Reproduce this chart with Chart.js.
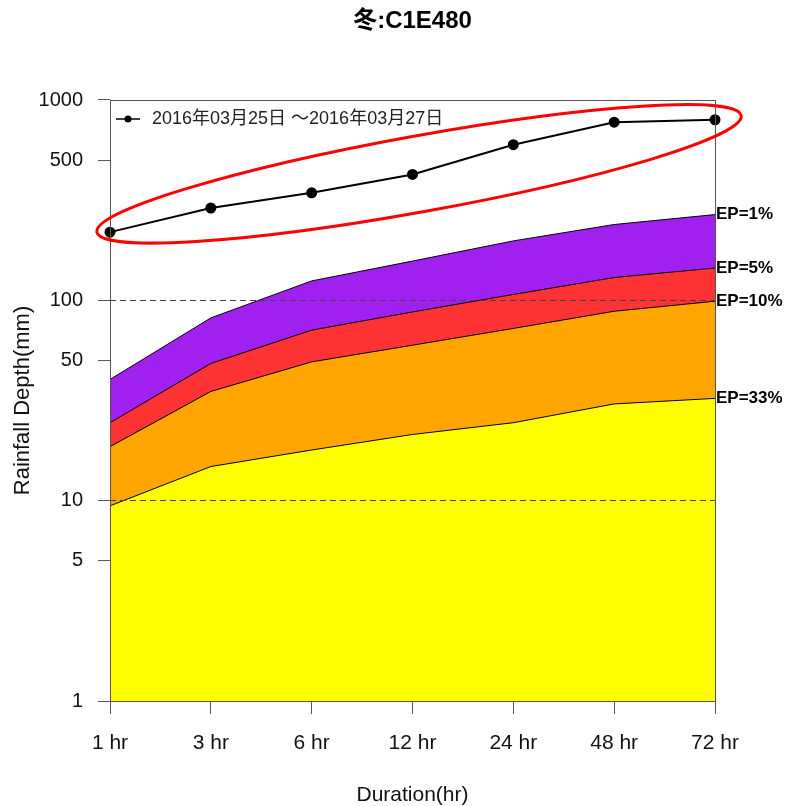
<!DOCTYPE html>
<html>
<head>
<meta charset="utf-8">
<script src="https://cdn.jsdelivr.net/npm/chart.js@4.4.1/dist/chart.umd.min.js"></script>
<style>
  body { margin: 0; background: #fff; }
  #box { width: 786px; height: 806px; }
</style>
</head>
<body>
<div id="box"><canvas id="myChart"></canvas></div>
<script>
const durations = ['1 hr', '3 hr', '6 hr', '12 hr', '24 hr', '48 hr', '72 hr'];
const yTicks = [1, 5, 10, 50, 100, 500, 1000];

// storm event depths (mm)
const observed = [219, 289, 344, 425, 598, 775, 797];

// exceedance probability curves (mm)
const ep1 = [40.3, 81.7, 125, 157, 198, 239, 268];
const ep5 = [24.5, 48.4, 71, 87.5, 107, 130, 145];
const ep10 = [18.6, 35.1, 49.3, 59.7, 72.4, 88.2, 99];
const ep33 = [9.42, 14.8, 17.9, 21.4, 24.5, 30.4, 32.4];

// red ring round the storm curve, in data units (index, mm) + half width px
const ring = { from: [-0.13, 219], to: [6.26, 836], half: 38 };

const FONT = "'Liberation Sans', Arial, 'Noto Sans CJK JP', sans-serif";
const AXIS = '#555';

const band = (label, values, color) => ({
  label: label,
  data: values,
  borderColor: '#000',
  borderWidth: 1,
  backgroundColor: color,
  fill: 'start',
  pointRadius: 0,
  tension: 0
});

const data = {
  labels: durations,
  datasets: [
    {
      label: '2016年03月25日 ～2016年03月27日',
      data: observed,
      borderColor: '#000',
      borderWidth: 2,
      backgroundColor: '#000',
      pointRadius: 4.5,
      pointBackgroundColor: '#000',
      fill: false
    },
    // first band is filled last so yellow sits on top
    band('EP=33%', ep33, '#FFFF00'),
    band('EP=10%', ep10, '#FFA500'),
    band('EP=5%', ep5, '#FF3333'),
    band('EP=1%', ep1, '#A020F0')
  ]
};

// box, end labels, legend and the ring
const extras = {
  id: 'extras',
  afterDraw(chart) {
    const ctx = chart.ctx;
    const area = chart.chartArea;
    const xs = chart.scales.x;
    const ys = chart.scales.y;
    ctx.save();

    ctx.strokeStyle = AXIS;
    ctx.lineWidth = 1;
    ctx.strokeRect(area.left + 0.5, area.top + 0.5, area.right - area.left, area.bottom - area.top);

    // EP labels at the right end of each band
    ctx.font = 'bold 17px ' + FONT;
    ctx.fillStyle = '#000';
    ctx.textAlign = 'left';
    ctx.textBaseline = 'middle';
    chart.data.datasets.slice(1).forEach(ds => {
      const last = ds.data[ds.data.length - 1];
      ctx.fillText(ds.label, area.right + 1, ys.getPixelForValue(last));
    });

    // legend
    const ly = area.top + 19;
    const lx = area.left + 6;
    ctx.strokeStyle = '#000';
    ctx.lineWidth = 1.5;
    ctx.beginPath();
    ctx.moveTo(lx, ly);
    ctx.lineTo(lx + 24, ly);
    ctx.stroke();
    ctx.beginPath();
    ctx.arc(lx + 12, ly, 3.5, 0, Math.PI * 2);
    ctx.fill();
    ctx.font = '18px ' + FONT;
    ctx.fillStyle = '#222';
    ctx.fillText(chart.data.datasets[0].label, lx + 36, ly);

    // ring
    const x1 = xs.getPixelForValue(ring.from[0]);
    const y1 = ys.getPixelForValue(ring.from[1]);
    const x2 = xs.getPixelForValue(ring.to[0]);
    const y2 = ys.getPixelForValue(ring.to[1]);
    ctx.strokeStyle = '#FF0000';
    ctx.lineWidth = 3;
    ctx.beginPath();
    ctx.ellipse((x1 + x2) / 2, (y1 + y2) / 2, Math.hypot(x2 - x1, y2 - y1) / 2, ring.half,
      Math.atan2(y2 - y1, x2 - x1), 0, Math.PI * 2);
    ctx.stroke();

    ctx.restore();
  }
};

const config = {
  type: 'line',
  data: data,
  plugins: [extras],
  options: {
    responsive: true,
    maintainAspectRatio: false,
    animation: false,
    devicePixelRatio: 1,
    layout: { padding: { left: 0, right: 71, top: 0, bottom: 0 } },
    plugins: {
      legend: { display: false },
      tooltip: { enabled: false },
      title: {
        display: true,
        text: '冬:C1E480',
        fullSize: false,
        color: '#000',
        font: { family: FONT, size: 24, weight: 'bold', lineHeight: 1.2 },
        padding: { top: 7.1, bottom: 64.1 }
      }
    },
    scales: {
      x: {
        type: 'category',
        offset: false,
        afterFit(scale) { scale.height = 105; },
        border: { display: false },
        grid: {
          drawOnChartArea: false,
          drawTicks: true,
          tickLength: 13,
          tickColor: AXIS
        },
        ticks: {
          color: '#111',
          padding: 17,
          maxRotation: 0,
          font: { family: FONT, size: 21 }
        },
        title: {
          display: true,
          text: 'Duration(hr)',
          color: '#111',
          font: { family: FONT, size: 21, lineHeight: 1 },
          padding: { top: 0, bottom: 0.5 }
        }
      },
      y: {
        type: 'logarithmic',
        min: 1,
        max: 1000,
        afterFit(scale) { scale.width = 110; },
        afterBuildTicks(scale) { scale.ticks = yTicks.map(v => ({ value: v })); },
        border: { display: false, dash: [6, 4] },
        grid: {
          z: 1,
          color: c => (c.tick && (c.tick.value === 10 || c.tick.value === 100)) ? '#444' : 'rgba(0,0,0,0)',
          lineWidth: 1,
          drawTicks: true,
          tickLength: 12,
          tickColor: AXIS
        },
        ticks: {
          color: '#111',
          padding: 15,
          font: { family: FONT, size: 20 },
          callback: v => String(v)
        },
        title: {
          display: true,
          text: 'Rainfall Depth(mm)',
          color: '#111',
          font: { family: FONT, size: 22 },
          padding: { top: 10, bottom: 0 }
        }
      }
    }
  }
};

const myChart = new Chart(document.getElementById('myChart'), config);
</script>
</body>
</html>
